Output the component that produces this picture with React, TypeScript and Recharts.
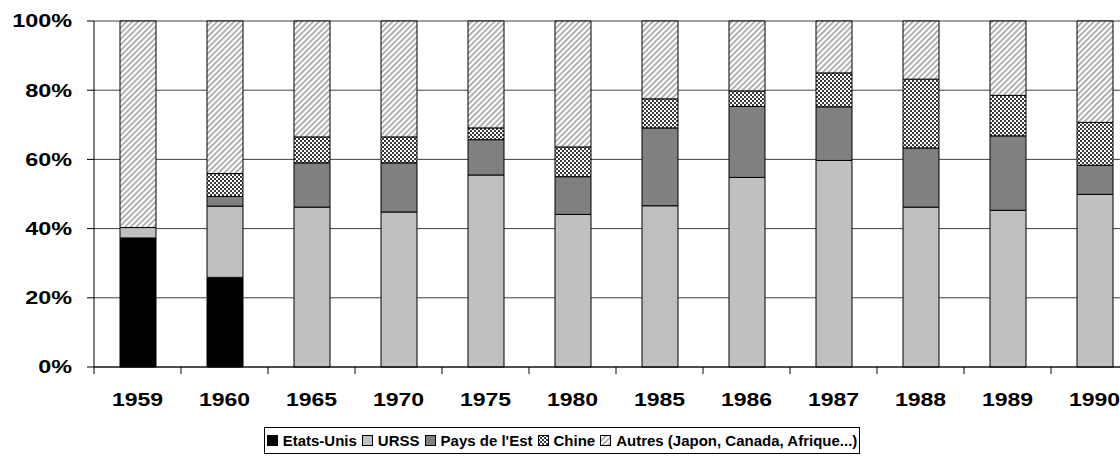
import React from "react";
import { BarChart, Bar, XAxis, YAxis, CartesianGrid } from "recharts";

const years = ["1959", "1960", "1965", "1970", "1975", "1980", "1985", "1986", "1987", "1988", "1989", "1990"];
const etatsUnis = [37.3, 25.9, 0, 0, 0, 0, 0, 0, 0, 0, 0, 0];
const urss = [3.0, 20.6, 46.2, 44.8, 55.5, 44.1, 46.6, 54.8, 59.7, 46.2, 45.3, 49.9];
const paysEst = [0, 2.8, 12.8, 14.2, 10.2, 10.9, 22.5, 20.5, 15.5, 17.1, 21.5, 8.4];
const chine = [0, 6.6, 7.5, 7.5, 3.4, 8.6, 8.4, 4.5, 9.8, 19.9, 11.7, 12.4];
const autres = [59.7, 44.1, 33.5, 33.5, 30.9, 36.4, 22.5, 20.2, 15.0, 16.8, 21.5, 29.3];
const yTicks = [0, 20, 40, 60, 80, 100];

const data = years.map((year, i) => ({
  year,
  etatsUnis: etatsUnis[i],
  urss: urss[i],
  paysEst: paysEst[i],
  chine: chine[i],
  autres: autres[i],
}));

const FONT = "'Liberation Sans', Arial, sans-serif";

const series = [
  { key: "etatsUnis", name: "Etats-Unis", fill: "#000000" },
  { key: "urss", name: "URSS", fill: "#c0c0c0" },
  { key: "paysEst", name: "Pays de l'Est", fill: "#808080" },
  { key: "chine", name: "Chine", fill: "url(#chk)" },
  { key: "autres", name: "Autres (Japon, Canada, Afrique...)", fill: "url(#hatch)" },
];

function Patterns({ suffix = "" }: { suffix?: string }) {
  return (
    <defs>
      <pattern id={"chk" + suffix} width="4" height="4" patternUnits="userSpaceOnUse">
        <rect width="4" height="4" fill="#ffffff" />
        <rect x="0" y="0" width="2" height="2" fill="#3a3a3a" />
        <rect x="2" y="2" width="2" height="2" fill="#3a3a3a" />
      </pattern>
      <pattern id={"hatch" + suffix} width="4" height="4" patternUnits="userSpaceOnUse" patternTransform="rotate(45)">
        <rect width="4" height="4" fill="#ffffff" />
        <rect x="0" y="0" width="1.6" height="4" fill="#a0a0a0" />
      </pattern>
    </defs>
  );
}

const YTick = (props: any) => {
  const { x, y, payload } = props;
  return (
    <text
      transform={`translate(${x},${y}) scale(1.3,1)`}
      textAnchor="end"
      dy="0.36em"
      fontSize={18}
      fontWeight="bold"
      fontFamily={FONT}
      fill="#000"
    >
      {payload.value}%
    </text>
  );
};

const XTick = (props: any) => {
  const { x, y, payload, index } = props;
  const half = payload.offset || 0;
  return (
    <g>
      <line x1={x - half} x2={x - half} y1={y} y2={y + 7} stroke="#000" />
      {index === years.length - 1 && <line x1={x + half} x2={x + half} y1={y} y2={y + 7} stroke="#000" />}
      <text
        transform={`translate(${x},${y + 32.5}) scale(1.28,1)`}
        textAnchor="middle"
        dy="0.36em"
        fontSize={18}
        fontWeight="bold"
        fontFamily={FONT}
        fill="#000"
      >
        {payload.value}
      </text>
    </g>
  );
};

function LegendBox() {
  return (
    <div
      style={{
        position: "absolute",
        left: 264,
        top: 427,
        width: 596,
        height: 27,
        boxSizing: "border-box",
        border: "1px solid #000",
        display: "flex",
        alignItems: "center",
        justifyContent: "center",
        fontFamily: FONT,
        fontWeight: "bold",
        fontSize: 15,
        color: "#000",
        whiteSpace: "nowrap",
      }}
    >
      {series.map((s, i) => (
        <span key={s.key} style={{ display: "inline-flex", alignItems: "center", marginLeft: i === 0 ? 0 : 5 }}>
          <svg width={11} height={11} style={{ marginRight: 5 }}>
            <Patterns suffix={"L" + i} />
            <rect
              x={0.5}
              y={0.5}
              width={10}
              height={10}
              fill={s.fill.startsWith("url") ? s.fill.replace(")", "L" + i + ")") : s.fill}
              stroke="#000"
            />
          </svg>
          {s.name}
        </span>
      ))}
    </div>
  );
}

export default function App() {
  return (
    <div style={{ position: "absolute", left: 0, top: 0, width: 1120, height: 459, overflow: "hidden", background: "#fff" }}>
      <BarChart width={1150} height={459} data={data} margin={{ top: 21, right: 12, left: 0, bottom: 42 }} barSize={36}>
        <Patterns />
        <CartesianGrid vertical={false} stroke="#000" strokeOpacity={0.75} />
        <XAxis
          dataKey="year"
          height={50}
          tickSize={0}
          tickMargin={0}
          tickLine={false}
          axisLine={{ stroke: "#000" }}
          tick={<XTick />}
          interval={0}
        />
        <YAxis
          domain={[0, 100]}
          ticks={yTicks}
          width={94}
          tickSize={7}
          tickMargin={15}
          tickLine={{ stroke: "#000" }}
          axisLine={{ stroke: "#000" }}
          tick={<YTick />}
          interval={0}
        />
        {series.map((s) => (
          <Bar key={s.key} dataKey={s.key} name={s.name} stackId="a" fill={s.fill} stroke="#000" strokeWidth={1} isAnimationActive={false} />
        ))}
      </BarChart>
      <LegendBox />
    </div>
  );
}
